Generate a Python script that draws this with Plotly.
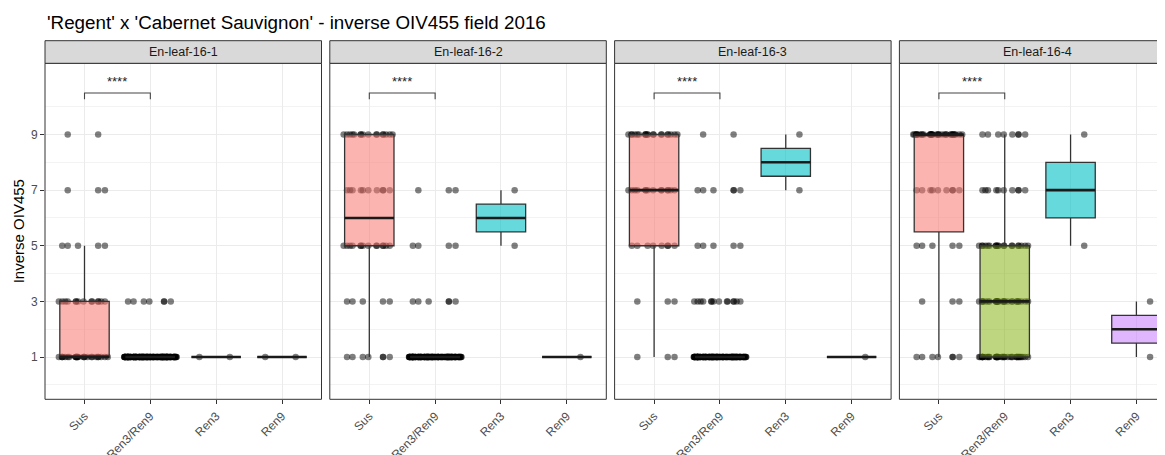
import numpy as np
import plotly.graph_objects as go
from plotly.subplots import make_subplots

# ---------------- data ----------------
title_text = "'Regent' x 'Cabernet Sauvignon' - inverse OIV455 field 2016"
panels = ["En-leaf-16-1", "En-leaf-16-2", "En-leaf-16-3", "En-leaf-16-4"]
groups = ["Sus", "Ren3/Ren9", "Ren3", "Ren9"]
scores = [1, 3, 5, 7, 9]
y_ticks = [1, 3, 5, 7, 9]
signif_label = "****"

# number of plants per score (1, 3, 5, 7, 9)
p1_sus = [26, 14, 5, 3, 2]
p1_ren39 = [150, 7, 0, 0, 0]
p1_ren3 = [2, 0, 0, 0, 0]
p1_ren9 = [2, 0, 0, 0, 0]

p2_sus = [7, 5, 14, 10, 16]
p2_ren39 = [130, 6, 4, 3, 0]
p2_ren3 = [0, 0, 1, 1, 0]
p2_ren9 = [1, 0, 0, 0, 0]

p3_sus = [3, 3, 8, 14, 20]
p3_ren39 = [130, 14, 5, 6, 2]
p3_ren3 = [0, 0, 0, 1, 1]
p3_ren9 = [1, 0, 0, 0, 0]

p4_sus = [7, 3, 5, 9, 34]
p4_ren39 = [40, 28, 20, 10, 8]
p4_ren3 = [0, 0, 1, 0, 1]
p4_ren9 = [1, 1, 0, 0, 0]

counts = [
    [p1_sus, p1_ren39, p1_ren3, p1_ren9],
    [p2_sus, p2_ren39, p2_ren3, p2_ren9],
    [p3_sus, p3_ren39, p3_ren3, p3_ren9],
    [p4_sus, p4_ren39, p4_ren3, p4_ren9],
]

# ---------------- style ----------------
fills = {
    "Sus": "rgba(248,118,109,0.55)",
    "Ren3/Ren9": "rgba(124,174,0,0.5)",
    "Ren3": "rgba(0,191,196,0.6)",
    "Ren9": "rgba(199,124,255,0.55)",
}
FONT = "Liberation Sans, Arial, Helvetica, sans-serif"
OFF = 8                      # page body margin of the browser
W, H = 1165 - OFF, 455 - OFF
panel_left = [45 - OFF, 329.8 - OFF, 614.6 - OFF, 899.4 - OFF]
panel_w = 276.5
plot_top, plot_bot = 63.3 - OFF, 399.3 - OFF
strip_top = 40.7 - OFF
y_range = [-0.52, 11.56]
box_w = 0.75

fig = make_subplots(rows=1, cols=4, shared_yaxes=False)


def stats(v):
    v = np.asarray(v, dtype=float)
    q1, med, q3 = np.percentile(v, [25, 50, 75])
    iqr = q3 - q1
    lo = v[v >= q1 - 1.5 * iqr].min()
    hi = v[v <= q3 + 1.5 * iqr].max()
    return q1, med, q3, lo, hi


for pi in range(4):
    col = pi + 1
    for gi, g in enumerate(groups):
        vals = np.repeat(scores, counts[pi][gi]).astype(float)
        if len(vals) == 0:
            continue
        # jittered points (drawn first, under the box), one trace per score
        for s, c in zip(scores, counts[pi][gi]):
            if c == 0:
                continue
            fig.add_trace(go.Box(
                x=[g] * c, y=[float(s)] * c, boxpoints="all", jitter=1.0, pointpos=0,
                width=0.8, fillcolor="rgba(0,0,0,0)",
                line=dict(width=0, color="rgba(0,0,0,0)"),
                marker=dict(color="rgba(0,0,0,0.5)", size=6.5, line=dict(width=0)),
                showlegend=False, hoverinfo="skip"), row=1, col=col)
        q1, med, q3, lo, hi = stats(vals)
        fig.add_trace(go.Box(
            x=[g], q1=[q1], median=[med], q3=[q3], lowerfence=[lo], upperfence=[hi],
            width=box_w, fillcolor=fills[g], line=dict(color="#333333", width=1.3),
            whiskerwidth=0, boxpoints=False, showlegend=False), row=1, col=col)
        # thick median line
        fig.add_trace(go.Box(
            x=[g], q1=[med], median=[med], q3=[med], lowerfence=[med], upperfence=[med],
            width=box_w, fillcolor="rgba(0,0,0,0)", line=dict(color="#1a1a1a", width=2.6),
            whiskerwidth=0, boxpoints=False, showlegend=False), row=1, col=col)

    # significance bracket Sus vs Ren3/Ren9
    xr = "x" if pi == 0 else f"x{col}"
    yr = "y" if pi == 0 else f"y{col}"
    fig.add_shape(type="path", xref=xr, yref=yr,
                  path="M 0,10.27 L 0,10.49 L 1,10.49 L 1,10.27",
                  line=dict(color="#444444", width=1.1))
    fig.add_annotation(x=0.5, y=10.9, xref=xr, yref=yr, text=signif_label,
                       showarrow=False, xanchor="center", yanchor="middle",
                       font=dict(size=13, color="#222222", family=FONT))

for pi in range(4):
    left = panel_left[pi]
    right = min(left + panel_w, W)
    vis_span = (right - left) / panel_w * 4.2
    xa = "xaxis" if pi == 0 else f"xaxis{pi + 1}"
    ya = "yaxis" if pi == 0 else f"yaxis{pi + 1}"
    fig.layout[xa].update(
        domain=[left / W, right / W], type="category", categoryorder="array",
        categoryarray=groups, range=[-0.6, -0.6 + vis_span], automargin=False,
        showgrid=True, gridcolor="#EBEBEB", gridwidth=1.1, zeroline=False,
        showline=False, ticks="outside", ticklen=4, tickcolor="#333333",
        tickangle=-45, tickfont=dict(size=12, color="#4D4D4D", family=FONT))
    fig.layout[ya].update(
        domain=[1 - plot_bot / H, 1 - plot_top / H], range=y_range, automargin=False,
        tickvals=y_ticks, showgrid=True, gridcolor="#EBEBEB", gridwidth=1.1,
        minor=dict(tickvals=[0, 2, 4, 6, 8, 10], showgrid=True, gridcolor="#F3F3F3",
                   gridwidth=0.6, ticks=""),
        zeroline=False, showline=False,
        showticklabels=(pi == 0), ticks="outside" if pi == 0 else "",
        ticklen=4, tickcolor="#333333",
        tickfont=dict(size=12, color="#4D4D4D", family=FONT))
    # panel border
    fig.add_shape(type="rect", xref="paper", yref="paper",
                  x0=left / W, x1=(left + panel_w) / W,
                  y0=1 - plot_bot / H, y1=1 - plot_top / H,
                  line=dict(color="#333333", width=1), fillcolor="rgba(0,0,0,0)", layer="above")
    # strip
    fig.add_shape(type="rect", xref="paper", yref="paper",
                  x0=left / W, x1=(left + panel_w) / W,
                  y0=1 - plot_top / H, y1=1 - strip_top / H,
                  line=dict(color="#333333", width=1), fillcolor="#D9D9D9", layer="above")
    fig.add_annotation(x=(left + panel_w / 2) / W, y=1 - (plot_top + strip_top) / 2 / H,
                       xref="paper", yref="paper", text=panels[pi], showarrow=False,
                       xanchor="center", yanchor="middle",
                       font=dict(size=12.5, color="#1A1A1A", family=FONT))

fig.add_annotation(x=(45 - OFF) / W, y=1 - (22 - OFF) / H, xref="paper", yref="paper",
                   text=title_text, showarrow=False, xanchor="left", yanchor="middle",
                   font=dict(size=18.8, color="#000000", family=FONT))
fig.add_annotation(x=(18 - OFF) / W, y=1 - (plot_top + plot_bot) / 2 / H, xref="paper",
                   yref="paper", text="Inverse OIV455", showarrow=False, textangle=-90,
                   xanchor="center", yanchor="middle",
                   font=dict(size=15, color="#000000", family=FONT))

fig.update_layout(width=W, height=H, margin=dict(l=0, r=0, t=0, b=0, autoexpand=False),
                  paper_bgcolor="white", plot_bgcolor="white", boxmode="overlay",
                  showlegend=False, font=dict(family=FONT))
fig.write_html("out.html")
